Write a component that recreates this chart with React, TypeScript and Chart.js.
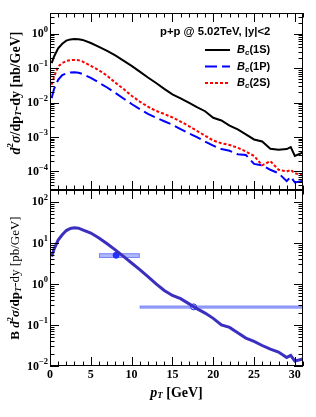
import React, { useEffect, useRef } from "react";
import { Chart, registerables } from "chart.js";
Chart.register(...registerables);

// ---------- data ----------
const pT = [0.2, 0.5, 1, 1.5, 2, 2.5, 3, 3.5, 4, 5, 6, 7, 8, 9, 10, 11, 12, 13, 14, 15, 16, 17, 18, 19, 20, 21, 22, 23, 24, 25, 26, 27, 28, 29, 29.5, 30, 31];
const bc1S = [0.141, 0.219, 0.38, 0.513, 0.631, 0.684, 0.7, 0.692, 0.661, 0.537, 0.417, 0.316, 0.234, 0.166, 0.117, 0.0794, 0.0537, 0.0372, 0.0251, 0.0174, 0.0132, 0.01, 0.00741, 0.00562, 0.00363, 0.00302, 0.00214, 0.00166, 0.0012, 0.000851, 0.000741, 0.000457, 0.000427, 0.000447, 0.000513, 0.000282, 0.000355];
const bc1P = [0.0135, 0.0251, 0.0457, 0.0631, 0.0708, 0.075, 0.0759, 0.0733, 0.0676, 0.0525, 0.038, 0.0275, 0.0191, 0.0132, 0.00912, 0.00646, 0.00468, 0.00363, 0.00288, 0.00229, 0.0017, 0.00129, 0.001, 0.000741, 0.000562, 0.000447, 0.000398, 0.000316, 0.000302, 0.000166, 0.000151, 0.000112, 0.0000891, 0.0000525, 0.0000708, 0.0000479, 0.0000537];
const bc2S = [0.0331, 0.0562, 0.112, 0.141, 0.162, 0.172, 0.174, 0.17, 0.155, 0.117, 0.0871, 0.0603, 0.038, 0.0251, 0.0158, 0.0107, 0.00759, 0.00575, 0.00468, 0.00372, 0.00282, 0.00209, 0.00151, 0.0011, 0.000794, 0.000661, 0.000589, 0.00049, 0.00038, 0.000282, 0.000151, 0.0002, 0.000112, 0.0001, 0.000112, 0.0000891, 0.0000759];
const bcTotalB = [4.68, 7.08, 11.7, 15.8, 20.0, 22.6, 23.4, 22.9, 20.9, 17.4, 13.2, 9.55, 6.76, 4.68, 3.24, 2.24, 1.51, 1.0, 0.692, 0.525, 0.437, 0.331, 0.251, 0.195, 0.145, 0.1, 0.0871, 0.0646, 0.0479, 0.0398, 0.0316, 0.0257, 0.0219, 0.0162, 0.0182, 0.0132, 0.0148];

const dataPt = [8.1, 17.6];
const dataVal = [5.0, 0.276];
const binLo = [6, 11];
const binHi = [11, 35];
const errLo = [4.3, 0.252];
const errHi = [5.6, 0.296];

const legendTitle = "p+p @ 5.02TeV, |y|<2";
const legendNames = ["1S", "1P", "2S"];
const xTickLabels = [0, 5, 10, 15, 20, 25, 30];

// ---------- styling ----------
const SERIF = '"Liberation Serif", "Times New Roman", serif';
const SANS = '"Liberation Sans", Arial, sans-serif';
const W = 316;
const H = 417;
const LEFT = 50;
const RIGHT = 303;
const TOP1 = 13;
const MID = 190;
const BOT2 = 366;

type Seg = { t: string; f: string; dy?: number };

function richWidth(ctx: CanvasRenderingContext2D, segs: Seg[]) {
  let w = 0;
  for (const s of segs) {
    ctx.font = s.f;
    w += ctx.measureText(s.t).width;
  }
  return w;
}
function drawRich(ctx: CanvasRenderingContext2D, segs: Seg[], x: number, y: number, align: "left" | "center" | "right", rot = 0) {
  ctx.save();
  ctx.translate(x, y);
  if (rot) ctx.rotate(rot);
  const w = richWidth(ctx, segs);
  let cx = align === "left" ? 0 : align === "center" ? -w / 2 : -w;
  ctx.textAlign = "left";
  ctx.textBaseline = "middle";
  ctx.fillStyle = "#000";
  for (const s of segs) {
    ctx.font = s.f;
    ctx.fillText(s.t, cx, s.dy || 0);
    cx += ctx.measureText(s.t).width;
  }
  ctx.restore();
}

function drawFrame(chart: any, xLabels: boolean) {
  const ctx: CanvasRenderingContext2D = chart.ctx;
  const a = chart.chartArea;
  const xs = chart.scales.x;
  const ys = chart.scales.y;
  ctx.save();
  ctx.strokeStyle = "#000";
  ctx.lineWidth = 1;
  ctx.strokeRect(Math.round(a.left) + 0.5, Math.round(a.top) + 0.5, Math.round(a.right - a.left) - 1, Math.round(a.bottom - a.top) - 1);
  ctx.beginPath();
  // x ticks
  for (let v = Math.ceil(xs.min); v <= xs.max; v++) {
    const px = Math.round(xs.getPixelForValue(v)) + 0.5;
    const len = v % 5 === 0 ? 9 : 4.5;
    ctx.moveTo(px, a.top);
    ctx.lineTo(px, a.top + len);
    ctx.moveTo(px, a.bottom);
    ctx.lineTo(px, a.bottom - len);
  }
  // y log ticks
  const d0 = Math.floor(Math.log10(ys.min));
  const d1 = Math.ceil(Math.log10(ys.max));
  for (let d = d0; d <= d1; d++) {
    for (let m = 1; m <= 9; m++) {
      const v = m * Math.pow(10, d);
      if (v < ys.min * 0.999 || v > ys.max * 1.001) continue;
      const py = Math.round(ys.getPixelForValue(v)) + 0.5;
      const len = m === 1 ? 9 : 4.5;
      ctx.moveTo(a.left, py);
      ctx.lineTo(a.left + len, py);
      ctx.moveTo(a.right, py);
      ctx.lineTo(a.right - len, py);
    }
  }
  ctx.stroke();
  // y labels
  for (let d = d0; d <= d1; d++) {
    const v = Math.pow(10, d);
    if (v < ys.min * 0.999 || v > ys.max * 1.001) continue;
    const py = ys.getPixelForValue(v);
    const es = d < 0 ? "\u2212" + Math.abs(d) : String(d);
    drawRich(ctx, [
      { t: "10", f: `bold 12px ${SERIF}`, dy: 0.5 },
      { t: es, f: `bold 8.5px ${SERIF}`, dy: -4 },
    ], a.left - 2, py, "right");
  }
  if (xLabels) {
    ctx.fillStyle = "#000";
    ctx.font = `bold 12px ${SERIF}`;
    ctx.textAlign = "center";
    ctx.textBaseline = "middle";
    for (const v of xTickLabels) {
      ctx.fillText(String(v), xs.getPixelForValue(v), a.bottom + 8.5);
    }
  }
  ctx.restore();
}

const topDecor = {
  id: "topDecor",
  afterDraw(chart: any) {
    const ctx: CanvasRenderingContext2D = chart.ctx;
    drawFrame(chart, false);
    // y title
    drawRich(ctx, [
      { t: "d", f: `italic bold 14px ${SERIF}` },
      { t: "2", f: `bold 9px ${SERIF}`, dy: -5 },
      { t: "σ", f: `italic bold 14px ${SERIF}` },
      { t: "/dp", f: `bold 14px ${SERIF}` },
      { t: "T", f: `italic bold 9px ${SERIF}`, dy: 3 },
      { t: "-dy [nb/GeV]", f: `bold 14px ${SERIF}` },
    ], 16, 93, "center", -Math.PI / 2);
    // legend
    drawRich(ctx, [{ t: legendTitle, f: `bold 11.3px ${SANS}` }], 160, 31.5, "left");
    const ds = chart.data.datasets;
    const ys = [50, 66.5, 83];
    for (let i = 0; i < 3; i++) {
      ctx.save();
      ctx.strokeStyle = ds[i].borderColor;
      ctx.lineWidth = 2;
      ctx.setLineDash(ds[i].borderDash || []);
      ctx.beginPath();
      ctx.moveTo(205, ys[i]);
      ctx.lineTo(230, ys[i]);
      ctx.stroke();
      ctx.restore();
      drawRich(ctx, [
        { t: "B", f: `italic bold 11px ${SANS}` },
        { t: "c", f: `italic bold 8px ${SANS}`, dy: 3 },
        { t: "(" + legendNames[i] + ")", f: `bold 11px ${SANS}` },
      ], 237, ys[i], "left");
    }
  },
};

const bottomDecor = {
  id: "bottomDecor",
  beforeDatasetsDraw(chart: any) {
    const ctx: CanvasRenderingContext2D = chart.ctx;
    const a = chart.chartArea;
    const xs = chart.scales.x;
    const ys = chart.scales.y;
    ctx.save();
    ctx.beginPath();
    ctx.rect(a.left, a.top, a.right - a.left, a.bottom - a.top);
    ctx.clip();
    for (let i = 0; i < dataPt.length; i++) {
      const x0 = xs.getPixelForValue(binLo[i]);
      const x1 = xs.getPixelForValue(binHi[i]);
      const y0 = ys.getPixelForValue(errHi[i]);
      const y1 = ys.getPixelForValue(errLo[i]);
      ctx.fillStyle = "rgba(70,85,245,0.42)";
      ctx.fillRect(x0, y0, x1 - x0, y1 - y0);
      ctx.strokeStyle = "rgba(70,85,245,0.55)";
      ctx.lineWidth = 1;
      ctx.strokeRect(x0 + 0.5, y0 + 0.5, x1 - x0 - 1, y1 - y0 - 1);
    }
    ctx.restore();
  },
  afterDraw(chart: any) {
    const ctx: CanvasRenderingContext2D = chart.ctx;
    drawFrame(chart, true);
    drawRich(ctx, [
      { t: "B ", f: `bold 13px ${SERIF}` },
      { t: "d", f: `italic bold 13px ${SERIF}` },
      { t: "2", f: `bold 8.5px ${SERIF}`, dy: -5 },
      { t: "σ", f: `italic bold 13px ${SERIF}` },
      { t: "/dp", f: `bold 13px ${SERIF}` },
      { t: "T", f: `italic bold 8.5px ${SERIF}`, dy: 3 },
      { t: "-dy [pb/GeV]", f: `13px ${SERIF}` },
    ], 16, 278, "center", -Math.PI / 2);
    drawRich(ctx, [
      { t: "p", f: `italic bold 14px ${SERIF}` },
      { t: "T", f: `italic bold 9px ${SERIF}`, dy: 3 },
      { t: " [GeV]", f: `bold 14px ${SERIF}` },
    ], (LEFT + RIGHT) / 2, 393, "center");
  },
};

function pts(ys: number[]) {
  return pT.map((x, i) => ({ x, y: ys[i] }));
}

export default function App() {
  const topRef = useRef<HTMLCanvasElement>(null);
  const botRef = useRef<HTMLCanvasElement>(null);

  useEffect(() => {
    const common = {
      responsive: false,
      animation: false as const,
      events: [] as any[],
      plugins: { legend: { display: false }, tooltip: { enabled: false }, title: { display: false } },
    };
    const top = new Chart(topRef.current!, {
      type: "line",
      data: {
        datasets: [
          { data: pts(bc1S), borderColor: "#000000", borderWidth: 2, pointRadius: 0, tension: 0, fill: false },
          { data: pts(bc1P), borderColor: "#0000ff", borderWidth: 2, borderDash: [12, 5], pointRadius: 0, tension: 0, fill: false },
          { data: pts(bc2S), borderColor: "#ff0000", borderWidth: 2, borderDash: [3, 2], pointRadius: 0, tension: 0, fill: false },
        ],
      },
      options: {
        ...common,
        layout: { padding: { left: LEFT, right: W - RIGHT, top: TOP1, bottom: H - MID } },
        scales: {
          x: { type: "linear", min: 0, max: 31, display: false, bounds: "data" },
          y: { type: "logarithmic", min: 2.9e-5, max: 4, display: false, bounds: "data" },
        },
      },
      plugins: [topDecor],
    } as any);
    const bot = new Chart(botRef.current!, {
      type: "line",
      data: {
        datasets: [
          { data: pts(bcTotalB), borderColor: "#3b2fc0", borderWidth: 3, pointRadius: 0, tension: 0, fill: false },
          {
            data: dataPt.map((x, i) => ({ x, y: dataVal[i] })),
            showLine: false,
            pointRadius: 3,
            pointBorderWidth: 1,
            pointBorderColor: "#2233ff",
            pointBackgroundColor: ["#2233ff", "rgba(190,195,255,1)"],
          },
        ],
      },
      options: {
        ...common,
        layout: { padding: { left: LEFT, right: W - RIGHT, top: MID, bottom: H - BOT2 } },
        scales: {
          x: { type: "linear", min: 0, max: 31, display: false, bounds: "data" },
          y: { type: "logarithmic", min: 0.01, max: 195, display: false, bounds: "data" },
        },
      },
      plugins: [bottomDecor],
    } as any);
    return () => {
      top.destroy();
      bot.destroy();
    };
  }, []);

  return (
    <div style={{ position: "fixed", left: 0, top: 0, width: W, height: H, background: "#fff" }}>
      <canvas ref={topRef} width={W} height={H} style={{ position: "absolute", left: 0, top: 0, display: "block" }} />
      <canvas ref={botRef} width={W} height={H} style={{ position: "absolute", left: 0, top: 0, display: "block" }} />
    </div>
  );
}
